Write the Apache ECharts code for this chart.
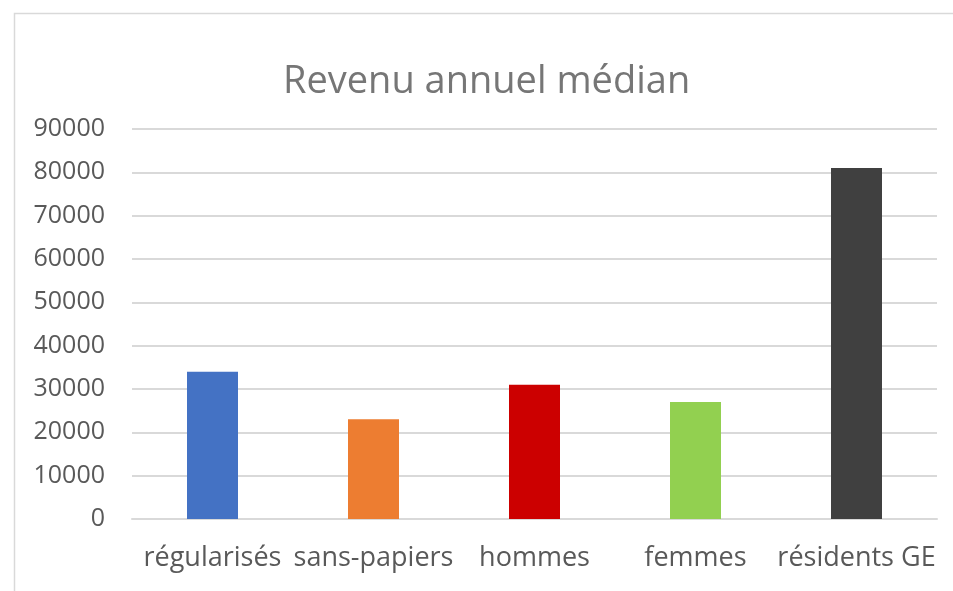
<!DOCTYPE html>
<html>
<head>
<meta charset="utf-8">
<script src="https://cdn.jsdelivr.net/npm/echarts@6/dist/echarts.min.js"></script>
<style>
  html, body { margin: 0; padding: 0; background: #fff; }
  #chart { width: 953px; height: 591px; }
</style>
</head>
<body>
<div id="chart"></div>
<script>
// categories and values
const categories = ['régularisés', 'sans-papiers', 'hommes', 'femmes', 'résidents GE'];
const values = [34000, 23000, 31000, 27000, 81000];
const barColors = ['#4472C4', '#ED7D31', '#CC0000', '#92D050', '#404040'];
const yTicks = { min: 0, max: 90000, interval: 10000 };

const chart = echarts.init(document.getElementById('chart'));

const option = {
  animation: false,
  backgroundColor: '#fff',
  textStyle: { fontFamily: 'Open Sans' },
  title: {
    text: 'Revenu annuel médian',
    left: 283,
    top: 63,
    padding: 0,
    textStyle: { fontFamily: 'Open Sans', fontSize: 38, fontWeight: 'normal', color: '#767676' }
  },
  graphic: [{
    type: 'rect',
    shape: { x: 14.5, y: 13.5, width: 960, height: 600 },
    style: { fill: 'none', stroke: '#d9d9d9', lineWidth: 1.5 },
    silent: true
  }],
  grid: { left: 132, right: 16, top: 129, bottom: 72, containLabel: false },
  xAxis: {
    type: 'category',
    data: categories,
    axisLine: { show: true, lineStyle: { color: '#d9d9d9', width: 2 } },
    axisTick: { show: false },
    axisLabel: { color: '#595959', fontSize: 27, margin: 26, interval: 0 }
  },
  yAxis: {
    type: 'value',
    min: yTicks.min,
    max: yTicks.max,
    interval: yTicks.interval,
    axisLine: { show: false },
    axisTick: { show: false },
    splitLine: { lineStyle: { color: '#d9d9d9', width: 2 } },
    axisLabel: { color: '#595959', fontSize: 25, margin: 27, formatter: v => String(v) }
  },
  series: [{
    type: 'bar',
    barWidth: 51,
    data: values.map((v, i) => ({ value: v, itemStyle: { color: barColors[i] } }))
  }]
};

chart.setOption(option);
</script>
</body>
</html>
